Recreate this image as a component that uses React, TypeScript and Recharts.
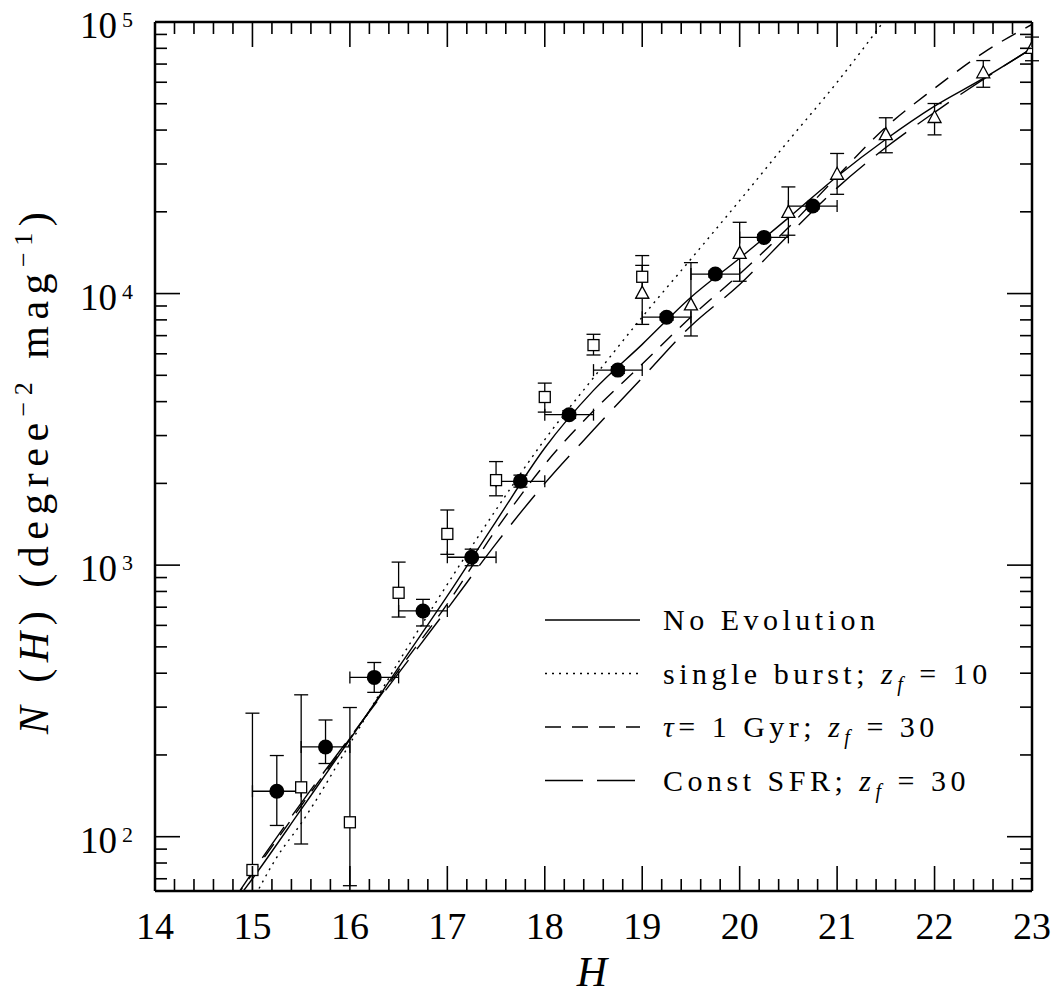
import React from "react";
import { ComposedChart, Line, Scatter, XAxis, YAxis, ErrorBar } from "recharts";

const FONT = "'Liberation Serif', 'Times New Roman', serif";
const INK = "#000";
const W = 1053;
const H = 996;

// axis ticks (majors get labels)
const X_TICKS = [
  14, 14.2, 14.4, 14.6, 14.8, 15, 15.2, 15.4, 15.6, 15.8, 16, 16.2, 16.4, 16.6, 16.8,
  17, 17.2, 17.4, 17.6, 17.8, 18, 18.2, 18.4, 18.6, 18.8, 19, 19.2, 19.4, 19.6, 19.8,
  20, 20.2, 20.4, 20.6, 20.8, 21, 21.2, 21.4, 21.6, 21.8, 22, 22.2, 22.4, 22.6, 22.8, 23,
];
const Y_TICKS = [
  70, 80, 90, 100, 200, 300, 400, 500, 600, 700, 800, 900,
  1000, 2000, 3000, 4000, 5000, 6000, 7000, 8000, 9000,
  10000, 20000, 30000, 40000, 50000, 60000, 70000, 80000, 90000, 100000,
];
const X_DOMAIN = [14, 23];
const Y_DOMAIN = [63.1, 100000];

// filled circles
const CIRCLE_H = [15.25, 15.75, 16.25, 16.75, 17.25, 17.75, 18.25, 18.75, 19.25, 19.75, 20.25, 20.75];
const CIRCLE_N = [147, 214, 386, 678, 1069, 2036, 3581, 5225, 8185, 11800, 16100, 21000];
const CIRCLE_LO = [110, 186, 340, 597, 995, 1937, 3470, 5080, 7980, 11500, 15700, 20500];
const CIRCLE_HI = [199, 269, 438, 748, 1145, 2145, 3700, 5380, 8400, 12100, 16500, 21500];
const CIRCLE_DH = 0.25;

// open squares
const SQUARE_H = [15.0, 15.5, 16.0, 16.5, 17.0, 17.5, 18.0, 18.5, 19.0];
const SQUARE_N = [75.4, 152, 113, 791, 1303, 2056, 4160, 6460, 11530];
const SQUARE_LO = [63.1, 94, 66, 644, 1096, 1800, 3660, 5940, 9600];
const SQUARE_HI = [285, 333, 299, 1026, 1596, 2406, 4680, 7080, 13800];

// open triangles
const TRI_H = [19.0, 19.5, 20.0, 20.5, 21.0, 21.5, 22.0, 22.5, 23.0];
const TRI_N = [10030, 9080, 14060, 19900, 27500, 38500, 44500, 65000, 80000];
const TRI_LO = [7700, 6980, 11100, 16400, 23200, 33000, 38400, 57500, 72000];
const TRI_HI = [12700, 13000, 18300, 24700, 32800, 44400, 50100, 72100, 88000];

// model counts
const MODEL_H = [14.8, 15, 15.5, 16, 16.5, 17, 17.5, 18, 18.5, 19, 19.5, 20, 20.5, 21, 21.5, 22, 22.5, 23];
const NOEVO_N = [56, 70, 126, 228, 420, 770, 1450, 2700, 4400, 6500, 9700, 13500, 19000, 27000, 37000, 49000, 62000, 80000];
const TAU_N = [58, 73, 130, 230, 410, 720, 1350, 2350, 3700, 5500, 8200, 11800, 17500, 27000, 41000, 57000, 77000, 98000];
const SFR_N = [58, 74, 133, 232, 400, 690, 1200, 2000, 3150, 4900, 7600, 10800, 16400, 24500, 34500, 46500, 61500, 80000];
const BURST_H = [15.0, 15.25, 15.5, 16, 16.5, 17, 17.5, 18, 18.5, 19, 19.5, 20, 20.5, 21, 21.5];
const BURST_N = [58, 84, 112, 220, 440, 850, 1600, 2900, 4900, 8200, 13400, 22000, 36500, 60000, 103000];

const DASH_SOLID = undefined;
const DASH_DOT = "2 5";
const DASH_SHORT = "16 11";
const DASH_LONG = "38 14";

const curve = (xs: number[], ys: number[]) => xs.map((x, i) => ({ x, y: ys[i] }));
const points = (xs: number[], ys: number[], lo: number[], hi: number[], dx?: number) =>
  xs.map((x, i) => ({ x, y: ys[i], ey: [ys[i] - lo[i], hi[i] - ys[i]], ex: dx }));

const circles = points(CIRCLE_H, CIRCLE_N, CIRCLE_LO, CIRCLE_HI, CIRCLE_DH);
const squares = points(SQUARE_H, SQUARE_N, SQUARE_LO, SQUARE_HI);
const triangles = points(TRI_H, TRI_N, TRI_LO, TRI_HI);

const MAJOR = 25;
const MINOR = 12;
const isInt = (v: number) => Math.abs(v - Math.round(v)) < 1e-6;

function BottomTick({ x, y, payload }: any) {
  const v = payload.value;
  const major = isInt(v);
  return (
    <g>
      <line x1={x} x2={x} y1={y} y2={y - (major ? MAJOR : MINOR)} stroke={INK} strokeWidth={1.6} />
      {major && (
        <text x={x} y={y + 48} textAnchor="middle" fontSize={38} fontFamily={FONT} fill={INK}>
          {Math.round(v)}
        </text>
      )}
    </g>
  );
}

function TopTick({ x, y, payload }: any) {
  const len = isInt(payload.value) ? MAJOR : MINOR;
  return <line x1={x} x2={x} y1={y} y2={y + len} stroke={INK} strokeWidth={1.6} />;
}

function LeftTick({ x, y, payload }: any) {
  const e = Math.log10(payload.value);
  const major = isInt(e);
  return (
    <g>
      <line x1={x} x2={x + (major ? MAJOR : MINOR)} y1={y} y2={y} stroke={INK} strokeWidth={1.6} />
      {major && (
        <text x={x - 22} y={y + 16} textAnchor="end" fontSize={37} fontFamily={FONT} fill={INK}>
          10
          <tspan dx={5} dy={-11} fontSize={22}>{Math.round(e)}</tspan>
        </text>
      )}
    </g>
  );
}

function RightTick({ x, y, payload }: any) {
  const len = isInt(Math.log10(payload.value)) ? MAJOR : MINOR;
  return <line x1={x} x2={x - len} y1={y} y2={y} stroke={INK} strokeWidth={1.6} />;
}

const Dot = ({ cx, cy }: any) => <circle cx={cx} cy={cy} r={7.5} fill={INK} />;
const Square = ({ cx, cy }: any) => (
  <rect x={cx - 5.5} y={cy - 5.5} width={11} height={11} fill="#fff" stroke={INK} strokeWidth={1.3} />
);
const Triangle = ({ cx, cy }: any) => (
  <polygon
    points={`${cx - 6.5},${cy + 5} ${cx + 6.5},${cy + 5} ${cx},${cy - 7}`}
    fill="#fff"
    stroke={INK}
    strokeWidth={1.3}
  />
);

const Zf = ({ v }: { v: string }) => (
  <>
    <tspan fontStyle="italic">z</tspan>
    <tspan dy={7} fontSize={20} fontStyle="italic">f</tspan>
    <tspan dy={-7}>{` = ${v}`}</tspan>
  </>
);

const LEGEND = [
  { dash: DASH_SOLID, label: <tspan>No Evolution</tspan> },
  { dash: DASH_DOT, label: <><tspan>single burst; </tspan><Zf v="10" /></> },
  { dash: DASH_SHORT, label: <><tspan fontStyle="italic">τ</tspan><tspan>= 1 Gyr; </tspan><Zf v="30" /></> },
  { dash: DASH_LONG, label: <><tspan>Const SFR; </tspan><Zf v="30" /></> },
];

export default function App() {
  const lineProps = { type: "monotone" as const, dataKey: "y", stroke: INK, strokeWidth: 1.4, dot: false, isAnimationActive: false };
  const eb = { stroke: INK, strokeWidth: 1.3 };
  return (
    // pulled up over the body margin so the top label has room
    <div style={{ position: "relative", width: W, height: H, marginTop: -8 }}>
      <ComposedChart width={W} height={H} margin={{ top: 0, right: 0, bottom: 0, left: 0 }}>
        <XAxis
          dataKey="x" type="number" domain={X_DOMAIN} allowDataOverflow ticks={X_TICKS} interval={0}
          height={105} tickSize={0} tickMargin={0} tick={<BottomTick />}
          axisLine={{ stroke: INK, strokeWidth: 2.5 }} tickLine={false}
        />
        <XAxis
          xAxisId="top" orientation="top" dataKey="x" type="number" domain={X_DOMAIN} allowDataOverflow
          ticks={X_TICKS} interval={0} height={22} tickSize={0} tickMargin={0} tick={<TopTick />}
          axisLine={{ stroke: INK, strokeWidth: 2.5 }} tickLine={false}
        />
        <YAxis
          dataKey="y" scale="log" type="number" domain={Y_DOMAIN} allowDataOverflow ticks={Y_TICKS} interval={0}
          width={147} tickSize={0} tickMargin={0} tick={<LeftTick />}
          axisLine={{ stroke: INK, strokeWidth: 2.5 }} tickLine={false}
        />
        <YAxis
          yAxisId="right" orientation="right" dataKey="y" scale="log" type="number" domain={Y_DOMAIN}
          allowDataOverflow ticks={Y_TICKS} interval={0} width={29} tickSize={0} tickMargin={0}
          tick={<RightTick />} axisLine={{ stroke: INK, strokeWidth: 2.5 }} tickLine={false}
        />

        <Line {...lineProps} data={curve(MODEL_H, NOEVO_N)} />
        <Line {...lineProps} data={curve(BURST_H, BURST_N)} strokeDasharray={DASH_DOT} />
        <Line {...lineProps} data={curve(MODEL_H, TAU_N)} strokeDasharray={DASH_SHORT} />
        <Line {...lineProps} data={curve(MODEL_H, SFR_N)} strokeDasharray={DASH_LONG} />

        <Scatter data={squares} dataKey="y" shape={<Square />} isAnimationActive={false}>
          <ErrorBar dataKey="ey" direction="y" width={7} {...eb} />
        </Scatter>
        <Scatter data={triangles} dataKey="y" shape={<Triangle />} isAnimationActive={false}>
          <ErrorBar dataKey="ey" direction="y" width={7} {...eb} />
        </Scatter>
        <Scatter data={circles} dataKey="y" shape={<Dot />} isAnimationActive={false}>
          <ErrorBar dataKey="ey" direction="y" width={7} {...eb} />
          <ErrorBar dataKey="ex" direction="x" width={6} {...eb} />
        </Scatter>
      </ComposedChart>

      <svg width={W} height={H} style={{ position: "absolute", left: 0, top: 0, pointerEvents: "none" }}>
        <text
          transform="translate(40, 470) rotate(-90)" textAnchor="middle" fontSize={42}
          fontFamily={FONT} letterSpacing={6.5} fill={INK}
        >
          <tspan fontStyle="italic">N</tspan>
          <tspan> (</tspan>
          <tspan fontStyle="italic">H</tspan>
          <tspan>) (degree</tspan>
          <tspan dy={-16} fontSize={26}>−2</tspan>
          <tspan dy={16}> mag</tspan>
          <tspan dy={-16} fontSize={26}>−1</tspan>
          <tspan dy={16}>)</tspan>
        </text>
        <text x={584} y={986} textAnchor="middle" fontSize={42} fontStyle="italic" fontFamily={FONT} fill={INK}>
          H
        </text>
        {LEGEND.map((s, i) => {
          const y = 620 + i * 53.5;
          return (
            <g key={i}>
              <line x1={537} x2={632} y1={y} y2={y} stroke={INK} strokeWidth={1.4} strokeDasharray={s.dash} />
              <text x={655} y={y + 10} fontSize={30} fontFamily={FONT} letterSpacing={4.5} fill={INK}>
                {s.label}
              </text>
            </g>
          );
        })}
      </svg>
    </div>
  );
}
